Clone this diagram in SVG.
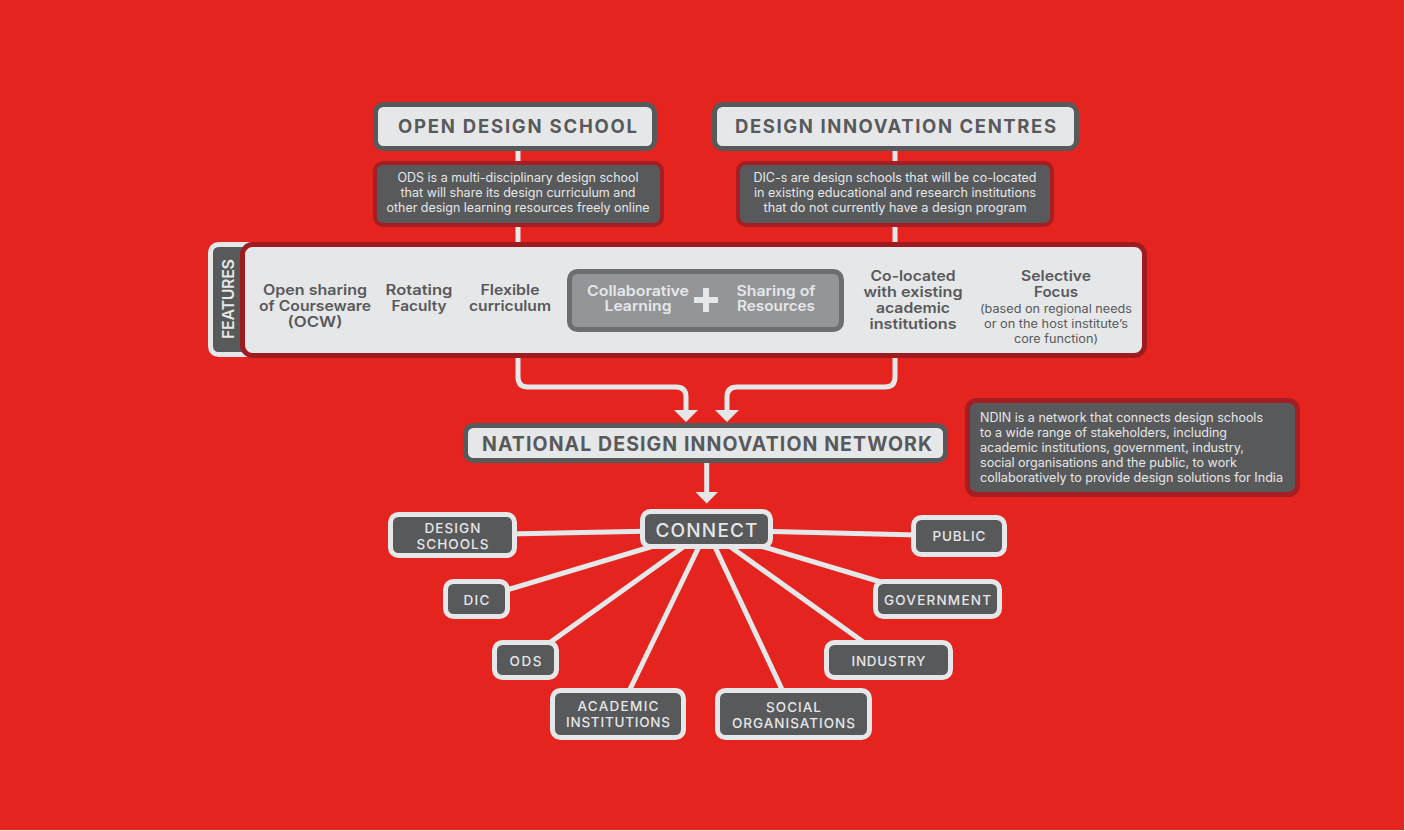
<svg xmlns="http://www.w3.org/2000/svg" width="1405" height="831" viewBox="0 0 1405 831">
<style>
.hdr{fill:#e6e7e8;stroke:#58595b;stroke-width:5}
.desc{fill:#58595b;stroke:#a51e23;stroke-width:4}
.leaf{fill:#58595b;stroke:#e6e7e8;stroke-width:5}
.ht{font-family:Inter,"Liberation Sans",sans-serif;font-weight:700;fill:#58595b;text-anchor:middle}
.dt{font-family:Inter,"Liberation Sans",sans-serif;font-size:12.5px;fill:#e6e7e8;text-anchor:middle}
.ft{font-family:Inter,"Liberation Sans",sans-serif;font-size:14.5px;font-weight:600;fill:#58595b;text-anchor:middle}
.fs{font-family:Inter,"Liberation Sans",sans-serif;font-size:11.5px;fill:#58595b;text-anchor:middle}
.ct{font-family:Inter,"Liberation Sans",sans-serif;font-size:14.5px;font-weight:600;fill:#e6e7e8;text-anchor:middle}
.lt{font-family:Inter,"Liberation Sans",sans-serif;font-size:13.5px;font-weight:500;fill:#e6e7e8;text-anchor:middle}
.conn{fill:none;stroke:#e6e7e8;stroke-width:5}
.ah{fill:#e6e7e8}
</style>
<rect x="0" y="0" width="1405" height="831" fill="#f2dcdc"/>
<rect x="0" y="0" width="1404" height="830" fill="#e6241f"/>

<g id="connectors">
  <path class="conn" d="M518 150 V377 Q518 387 528 387 H676 Q686 387 686 397 V411"/>
  <polygon class="ah" points="674,410 698,410 686,422"/>
  <path class="conn" d="M895 150 V377 Q895 387 885 387 H737 Q727 387 727 397 V411"/>
  <polygon class="ah" points="715,410 739,410 727,422"/>
  <path class="conn" d="M706.7 462 V493"/>
  <polygon class="ah" points="695.5,492 718,492 706.7,503.5"/>
  <path class="conn" d="M707 530 L452.5 535"/>
  <path class="conn" d="M707 530 L476.5 599"/>
  <path class="conn" d="M707 530 L525.5 660"/>
  <path class="conn" d="M707 530 L618 714"/>
  <path class="conn" d="M707 530 L793.5 714"/>
  <path class="conn" d="M707 530 L888.5 660"/>
  <path class="conn" d="M707 530 L937.5 599"/>
  <path class="conn" d="M707 530 L959 536"/>
</g>

<g id="ods">
  <rect class="hdr" x="375.5" y="104.5" width="279" height="44" rx="8"/>
  <text class="ht" x="517.5" y="133" style="font-size:18.5px" textLength="239" lengthAdjust="spacing">OPEN DESIGN SCHOOL</text>
</g>
<g id="dic">
  <rect class="hdr" x="714.5" y="104.5" width="362" height="44" rx="8"/>
  <text class="ht" x="895.5" y="133" style="font-size:18.5px" textLength="321" lengthAdjust="spacing">DESIGN INNOVATION CENTRES</text>
</g>

<g id="ods-desc">
  <rect class="desc" x="375" y="163" width="287" height="62" rx="8"/>
  <text class="dt" x="518" y="182" textLength="241" lengthAdjust="spacingAndGlyphs">ODS is a multi-disciplinary design school</text>
  <text class="dt" x="518" y="197" textLength="235" lengthAdjust="spacingAndGlyphs">that will share its design curriculum and</text>
  <text class="dt" x="518" y="212" textLength="263" lengthAdjust="spacingAndGlyphs">other design learning resources freely online</text>
</g>
<g id="dic-desc">
  <rect class="desc" x="738" y="163" width="314" height="62" rx="8"/>
  <text class="dt" x="895" y="182" textLength="283" lengthAdjust="spacingAndGlyphs">DIC-s are design schools that will be co-located</text>
  <text class="dt" x="895" y="197" textLength="282" lengthAdjust="spacingAndGlyphs">in existing educational and research institutions</text>
  <text class="dt" x="895" y="212" textLength="263" lengthAdjust="spacingAndGlyphs">that do not currently have a design program</text>
</g>

<g id="features-tab">
  <rect x="210.5" y="244.5" width="45" height="110" rx="8" fill="#58595b" stroke="#e6e7e8" stroke-width="5"/>
  <text class="ct" transform="translate(234 299) rotate(-90)" x="0" y="0" style="font-size:16px" textLength="80" lengthAdjust="spacing">FEATURES</text>
</g>

<g id="features">
  <rect x="242.5" y="244.5" width="902" height="111" rx="10" fill="#e6e7e8" stroke="#9e1c21" stroke-width="5"/>
  <text class="ft" x="315" y="295" textLength="104" lengthAdjust="spacingAndGlyphs">Open sharing</text>
  <text class="ft" x="315" y="311" textLength="112" lengthAdjust="spacingAndGlyphs">of Courseware</text>
  <text class="ft" x="315" y="327" textLength="55" lengthAdjust="spacingAndGlyphs">(OCW)</text>
  <text class="ft" x="419" y="295" textLength="67" lengthAdjust="spacingAndGlyphs">Rotating</text>
  <text class="ft" x="419" y="311" textLength="55" lengthAdjust="spacingAndGlyphs">Faculty</text>
  <text class="ft" x="510" y="295" textLength="59" lengthAdjust="spacingAndGlyphs">Flexible</text>
  <text class="ft" x="510" y="311" textLength="82" lengthAdjust="spacingAndGlyphs">curriculum</text>
  <text class="ft" x="913" y="281" textLength="85" lengthAdjust="spacingAndGlyphs">Co-located</text>
  <text class="ft" x="913" y="297" textLength="99" lengthAdjust="spacingAndGlyphs">with existing</text>
  <text class="ft" x="913" y="313" textLength="74" lengthAdjust="spacingAndGlyphs">academic</text>
  <text class="ft" x="913" y="329" textLength="87" lengthAdjust="spacingAndGlyphs">institutions</text>
  <text class="ft" x="1056" y="281" textLength="70" lengthAdjust="spacingAndGlyphs">Selective</text>
  <text class="ft" x="1056" y="297" textLength="44" lengthAdjust="spacingAndGlyphs">Focus</text>
  <text class="fs" x="1056" y="313" textLength="152" lengthAdjust="spacingAndGlyphs">(based on regional needs</text>
  <text class="fs" x="1056" y="328" textLength="144" lengthAdjust="spacingAndGlyphs">or on the host institute’s</text>
  <text class="fs" x="1056" y="343" textLength="84" lengthAdjust="spacingAndGlyphs">core function)</text>
</g>

<g id="collab">
  <rect x="569.5" y="271.5" width="272" height="58" rx="8" fill="#939598" stroke="#6d6e71" stroke-width="5"/>
  <text class="ct" x="638" y="296" textLength="102" lengthAdjust="spacingAndGlyphs">Collaborative</text>
  <text class="ct" x="638" y="311" textLength="67" lengthAdjust="spacingAndGlyphs">Learning</text>
  <path d="M706 288 V312 M694 300 H718" stroke="#e6e7e8" stroke-width="6" fill="none"/>
  <text class="ct" x="776" y="296" textLength="79" lengthAdjust="spacingAndGlyphs">Sharing of</text>
  <text class="ct" x="776" y="311" textLength="78" lengthAdjust="spacingAndGlyphs">Resources</text>
</g>

<g id="ndin">
  <rect class="hdr" x="465.5" y="425.5" width="480" height="35" rx="8"/>
  <text class="ht" x="707" y="451" style="font-size:19.5px" textLength="450" lengthAdjust="spacing">NATIONAL DESIGN INNOVATION NETWORK</text>
</g>

<g id="ndin-desc">
  <rect x="967.5" y="400.5" width="330" height="94" rx="9" fill="#58595b" stroke="#a51e23" stroke-width="5"/>
  <text class="dt" style="text-anchor:start" x="980" y="422" textLength="283" lengthAdjust="spacingAndGlyphs">NDIN is a network that connects design schools</text>
  <text class="dt" style="text-anchor:start" x="980" y="437" textLength="247" lengthAdjust="spacingAndGlyphs">to a wide range of stakeholders, including</text>
  <text class="dt" style="text-anchor:start" x="980" y="452" textLength="264" lengthAdjust="spacingAndGlyphs">academic institutions, government, industry,</text>
  <text class="dt" style="text-anchor:start" x="980" y="467" textLength="257" lengthAdjust="spacingAndGlyphs">social organisations and the public, to work</text>
  <text class="dt" style="text-anchor:start" x="980" y="482" textLength="303" lengthAdjust="spacingAndGlyphs">collaboratively to provide design solutions for India</text>
</g>

<g id="connect">
  <rect class="leaf" x="642.5" y="511.5" width="128" height="35" rx="8"/>
  <text class="lt" x="706.5" y="537" style="font-size:19px" textLength="102" lengthAdjust="spacing">CONNECT</text>
</g>

<g id="design-schools">
  <rect class="leaf" x="390.5" y="514.5" width="124" height="41" rx="8"/>
  <text class="lt" x="452.5" y="533" textLength="56" lengthAdjust="spacing">DESIGN</text>
  <text class="lt" x="452.5" y="549" textLength="72" lengthAdjust="spacing">SCHOOLS</text>
</g>
<g id="dic-node">
  <rect class="leaf" x="445.5" y="581.5" width="62" height="35" rx="8"/>
  <text class="lt" x="476.5" y="605" textLength="26" lengthAdjust="spacing">DIC</text>
</g>
<g id="ods-node">
  <rect class="leaf" x="494.5" y="642.5" width="62" height="35" rx="8"/>
  <text class="lt" x="525.5" y="666" textLength="32" lengthAdjust="spacing">ODS</text>
</g>
<g id="academic">
  <rect class="leaf" x="552.5" y="690.5" width="131" height="47" rx="8"/>
  <text class="lt" x="618" y="711" textLength="81" lengthAdjust="spacing">ACADEMIC</text>
  <text class="lt" x="618" y="727" textLength="104" lengthAdjust="spacing">INSTITUTIONS</text>
</g>
<g id="social">
  <rect class="leaf" x="717.5" y="690.5" width="152" height="47" rx="8"/>
  <text class="lt" x="793.5" y="712" textLength="55" lengthAdjust="spacing">SOCIAL</text>
  <text class="lt" x="793.5" y="728" textLength="123" lengthAdjust="spacing">ORGANISATIONS</text>
</g>
<g id="industry">
  <rect class="leaf" x="826.5" y="642.5" width="124" height="35" rx="8"/>
  <text class="lt" x="888.5" y="666" textLength="74" lengthAdjust="spacing">INDUSTRY</text>
</g>
<g id="government">
  <rect class="leaf" x="875.5" y="581.5" width="124" height="35" rx="8"/>
  <text class="lt" x="937.5" y="605" textLength="107" lengthAdjust="spacing">GOVERNMENT</text>
</g>
<g id="public">
  <rect class="leaf" x="913.5" y="517.5" width="91" height="37" rx="8"/>
  <text class="lt" x="959" y="541" textLength="53" lengthAdjust="spacing">PUBLIC</text>
</g>
</svg>
